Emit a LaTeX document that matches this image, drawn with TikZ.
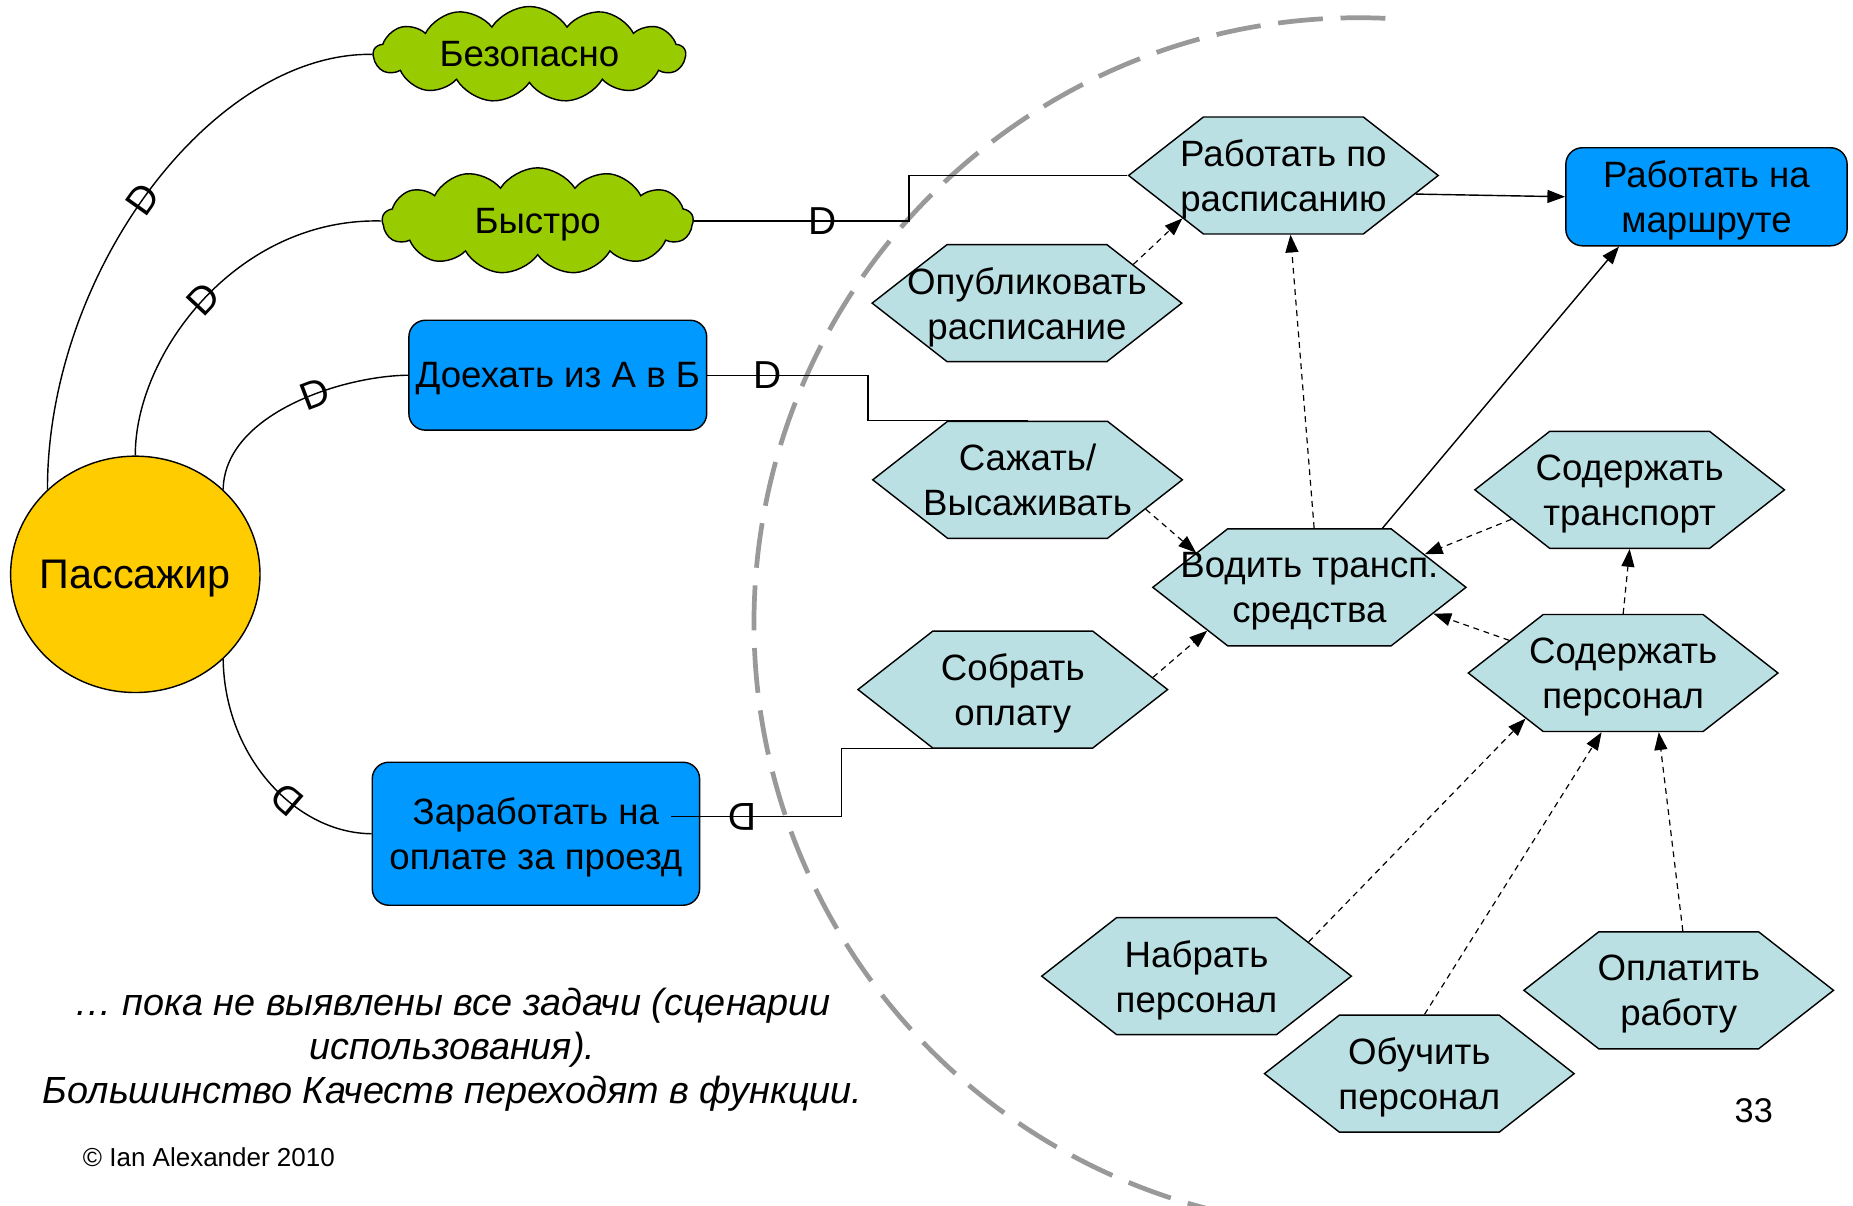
\documentclass[tikz,border=0pt]{standalone}
\usepackage{fontspec}
\setmainfont{Liberation Sans}
\usetikzlibrary{shapes.geometric,shapes.symbols,arrows.meta,calc}
\definecolor{passenger}{HTML}{FFCC00}
\definecolor{cloudgreen}{HTML}{99CC00}
\definecolor{goalblue}{HTML}{0099FF}
\definecolor{taskfill}{HTML}{BBE0E3}
\definecolor{boundary}{HTML}{999999}
\begin{document}
\begin{tikzpicture}[x=1pt,y=1pt,
  every node/.style={font=\fontsize{31}{38}\selectfont, text=black, inner sep=0pt,
    text depth=0pt},
  task/.style={shape=signal, signal to=east and west, signal pointer angle=76,
    draw=black, line width=1.2pt, fill=taskfill, inner xsep=-40pt,
    minimum width=262pt, minimum height=99pt, align=center},
  goal/.style={rectangle, rounded corners=14pt, draw=black, line width=1.2pt,
    fill=goalblue, align=center},
  soft/.style={cloud, cloud puffs=13, cloud puff arc=115, cloud ignores aspect,
    draw=black, line width=1.2pt, fill=cloudgreen},
  link/.style={draw=black, line width=1.2pt},
  dmark/.style={sloped, allow upside down, inner sep=0pt, font=\fontsize{33}{38}\selectfont},
  dep/.style={draw=black, line width=1pt, dash pattern=on 5pt off 4pt,
    -{Triangle[length=15pt,width=11pt]}},
  cont/.style={draw=black, line width=1.2pt, -{Triangle[length=15pt,width=11pt]}},
]
% page
\fill[white] (0,0) rectangle (1568,-1020);
\path[use as bounding box] (0,0) rectangle (1568,-1020);

% system boundary
\begin{scope}
  \clip (0,0) rectangle (1568,-1020);
  \draw[boundary, line width=4pt, dash pattern=on 38pt off 15pt]
    (1150,-527) ++(87.5:512) arc[start angle=87.5, end angle=265, radius=512];
\end{scope}

% actor
\node[ellipse, draw=black, line width=1.2pt, fill=passenger, minimum width=211pt,
  minimum height=200pt, inner xsep=-14pt, font=\fontsize{35}{42}\selectfont]
  (pas) at (114.5,-486) {Пассажир};

% softgoals
\node[soft, minimum width=264pt, minimum height=81pt] (bez) at (448,-46) {Безопасно};
\node[soft, minimum width=263pt, minimum height=90pt] (bys) at (455,-187) {Быстро};

% goals
\node[goal, minimum width=252pt, minimum height=93pt] (doe) at (472,-317.5) {Доехать из А в Б};
\node[goal, minimum width=277pt, minimum height=121pt] (zar) at (453.5,-705.5) {Заработать на\\оплате за проезд};
\node[goal, minimum width=238pt, minimum height=83pt] (rnm) at (1444,-166.5) {Работать на\\маршруте};

% tasks
\node[task] (rpr) at (1086,-148.5) {Работать по\\расписанию};
\node[task] (opu) at (869,-256.5) {Опубликовать\\расписание};
\node[task] (saz) at (869.5,-406) {Сажать/\\Высаживать};
\node[task] (vod) at (1108,-497) {Водить трансп.\\средства};
\node[task] (sob) at (857,-583.5) {Собрать\\оплату};
\node[task] (sot) at (1379,-414.5) {Содержать\\транспорт};
\node[task] (sop) at (1373.5,-569.5) {Содержать\\персонал};
\node[task] (nab) at (1012.5,-826) {Набрать\\персонал};
\node[task] (obu) at (1201,-908.5) {Обучить\\персонал};
\node[task] (opl) at (1420.5,-838) {Оплатить\\работу};

% dependency links
\draw[link] (pas.136) .. controls (40,-230) and (180,-44) .. node[dmark,pos=0.48]{D} (bez.west);
\draw[link] (pas.north) .. controls (114,-300) and (200,-184) .. node[dmark,pos=0.5]{D} (bys.west);
\draw[link] (pas.44) .. controls (190,-350) and (290,-318) .. node[dmark,pos=0.6]{D} (doe.west);
\draw[link] (zar.west) .. controls (250,-705) and (190,-640) .. node[dmark,pos=0.4]{D} (pas.-44);

\draw[link] (bys.east) -- node[dmark,pos=0.6]{D} ++(182,0) |- (rpr.west);
\draw[link] (doe.east) -- node[dmark,pos=0.375]{D} ++(136,0) |- (saz.north);
\coordinate (zs) at (568,-691);
\draw[link] (sob.south) -| (712,-691) -- node[dmark,pos=0.58]{D} (zs);

% contributions
\draw[cont] (rpr.-8) -- (rnm.west);
\draw[cont] (vod.39) -- ($(rnm.south)+(-74,0)$);

% decompositions
\draw[dep] ($(vod.north)+(4,0)$) -- ($(rpr.south)+(6,0)$);
\draw[dep] (opu.20) -- (rpr.203);
\draw[dep] (saz.-14) -- (vod.163);
\draw[dep] (sob.5) -- (vod.203);
\draw[dep] (sot.194) -- (vod.16);
\draw[dep] (sop.164) -- (vod.-12);
\draw[dep] (sop.north) -- (sot.south);
\draw[dep] (nab.17) -- (sop.205);
\draw[dep] (obu.85) -- (sop.250);
\draw[dep] (opl.86) -- (sop.301);

% captions
\node[font=\itshape\fontsize{32}{37}\selectfont, align=center] (note) at (383,-885)
  {… пока не выявлены все задачи (сценарии\\использования).\\Большинство Качеств переходят в функции.};
\node[font=\fontsize{22}{26}\selectfont, anchor=west] (copy) at (70,-979) {© Ian Alexander 2010};
\node[font=\fontsize{29}{34}\selectfont] (pg) at (1484,-940) {33};
\end{tikzpicture}
\end{document}
